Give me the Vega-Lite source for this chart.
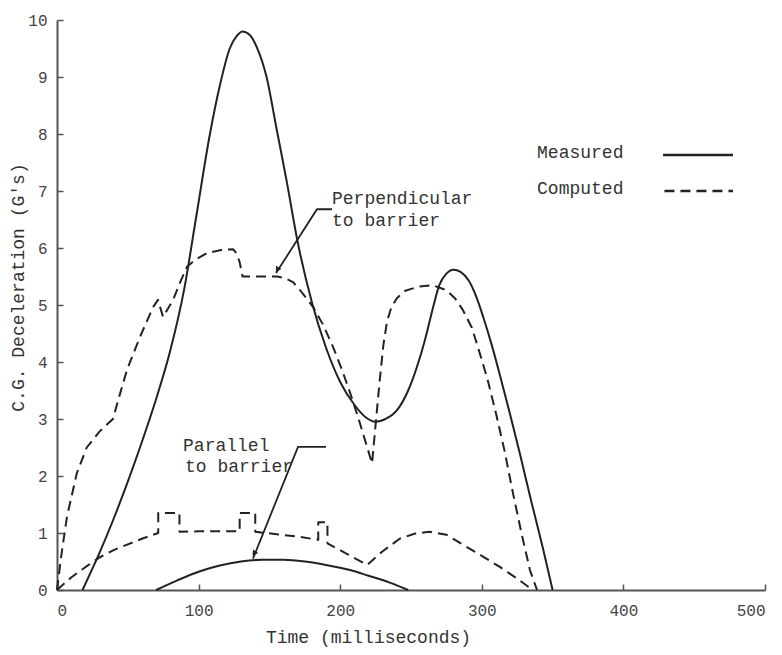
{
  "$schema": "https://vega.github.io/schema/vega-lite/v6.json",
  "width": 708,
  "height": 570,
  "autosize": "none",
  "padding": {"left": 57, "top": 20, "right": 17, "bottom": 65},
  "background": "white",
  "config": {
    "view": {"stroke": null},
    "font": "Liberation Mono",
    "axis": {
      "grid": false,
      "domainColor": "#555",
      "domainWidth": 2,
      "tickColor": "#555",
      "tickWidth": 1.5,
      "tickSize": -6,
      "labelFont": "Liberation Mono",
      "labelFontSize": 16,
      "labelColor": "#444",
      "titleFont": "Liberation Mono",
      "titleFontSize": 18,
      "titleFontWeight": "normal",
      "titleColor": "#333"
    }
  },
  "datasets": {
    "measured": [
      {"s":"mp","t":"Measured","x":18,"y":0},
      {"s":"mp","t":"Measured","x":30,"y":0.65},
      {"s":"mp","t":"Measured","x":40,"y":1.25},
      {"s":"mp","t":"Measured","x":50,"y":1.9},
      {"s":"mp","t":"Measured","x":60,"y":2.6},
      {"s":"mp","t":"Measured","x":70,"y":3.35},
      {"s":"mp","t":"Measured","x":80,"y":4.2},
      {"s":"mp","t":"Measured","x":90,"y":5.3},
      {"s":"mp","t":"Measured","x":98,"y":6.5},
      {"s":"mp","t":"Measured","x":108,"y":8.0},
      {"s":"mp","t":"Measured","x":115,"y":8.85},
      {"s":"mp","t":"Measured","x":122,"y":9.5},
      {"s":"mp","t":"Measured","x":127,"y":9.72},
      {"s":"mp","t":"Measured","x":131,"y":9.8},
      {"s":"mp","t":"Measured","x":136,"y":9.74},
      {"s":"mp","t":"Measured","x":141,"y":9.53},
      {"s":"mp","t":"Measured","x":148,"y":9.0},
      {"s":"mp","t":"Measured","x":155,"y":8.1},
      {"s":"mp","t":"Measured","x":162,"y":7.2},
      {"s":"mp","t":"Measured","x":170,"y":6.1},
      {"s":"mp","t":"Measured","x":180,"y":5.05},
      {"s":"mp","t":"Measured","x":190,"y":4.25},
      {"s":"mp","t":"Measured","x":200,"y":3.65},
      {"s":"mp","t":"Measured","x":210,"y":3.25},
      {"s":"mp","t":"Measured","x":218,"y":3.03},
      {"s":"mp","t":"Measured","x":225,"y":2.95},
      {"s":"mp","t":"Measured","x":232,"y":3.0},
      {"s":"mp","t":"Measured","x":240,"y":3.15},
      {"s":"mp","t":"Measured","x":248,"y":3.5},
      {"s":"mp","t":"Measured","x":254,"y":3.9},
      {"s":"mp","t":"Measured","x":260,"y":4.4},
      {"s":"mp","t":"Measured","x":265,"y":4.9},
      {"s":"mp","t":"Measured","x":270,"y":5.35},
      {"s":"mp","t":"Measured","x":275,"y":5.55},
      {"s":"mp","t":"Measured","x":280,"y":5.62},
      {"s":"mp","t":"Measured","x":285,"y":5.58},
      {"s":"mp","t":"Measured","x":291,"y":5.42},
      {"s":"mp","t":"Measured","x":296,"y":5.15},
      {"s":"mp","t":"Measured","x":301,"y":4.79},
      {"s":"mp","t":"Measured","x":307,"y":4.3},
      {"s":"mp","t":"Measured","x":313,"y":3.75},
      {"s":"mp","t":"Measured","x":320,"y":3.08},
      {"s":"mp","t":"Measured","x":327,"y":2.38},
      {"s":"mp","t":"Measured","x":335,"y":1.55},
      {"s":"mp","t":"Measured","x":343,"y":0.75},
      {"s":"mp","t":"Measured","x":350,"y":0},

      {"s":"ml","t":"Measured","x":70,"y":0},
      {"s":"ml","t":"Measured","x":85,"y":0.17},
      {"s":"ml","t":"Measured","x":101,"y":0.33},
      {"s":"ml","t":"Measured","x":115,"y":0.43},
      {"s":"ml","t":"Measured","x":130,"y":0.5},
      {"s":"ml","t":"Measured","x":145,"y":0.53},
      {"s":"ml","t":"Measured","x":160,"y":0.53},
      {"s":"ml","t":"Measured","x":175,"y":0.5},
      {"s":"ml","t":"Measured","x":190,"y":0.44},
      {"s":"ml","t":"Measured","x":207,"y":0.35},
      {"s":"ml","t":"Measured","x":220,"y":0.25},
      {"s":"ml","t":"Measured","x":235,"y":0.13},
      {"s":"ml","t":"Measured","x":248,"y":0}
    ],
    "computed": [
      {"s":"cp","t":"Computed","i":0,"x":0,"y":0},
      {"s":"cp","t":"Computed","i":1,"x":3,"y":0.6},
      {"s":"cp","t":"Computed","i":2,"x":7,"y":1.28},
      {"s":"cp","t":"Computed","i":3,"x":14,"y":2.05},
      {"s":"cp","t":"Computed","i":4,"x":21,"y":2.5},
      {"s":"cp","t":"Computed","i":5,"x":30,"y":2.78},
      {"s":"cp","t":"Computed","i":6,"x":39.5,"y":3.0},
      {"s":"cp","t":"Computed","i":7,"x":44,"y":3.4},
      {"s":"cp","t":"Computed","i":8,"x":49.4,"y":3.86},
      {"s":"cp","t":"Computed","i":9,"x":58.6,"y":4.44},
      {"s":"cp","t":"Computed","i":10,"x":67.8,"y":4.96},
      {"s":"cp","t":"Computed","i":11,"x":71.3,"y":5.09},
      {"s":"cp","t":"Computed","i":12,"x":74.9,"y":4.79},
      {"s":"cp","t":"Computed","i":13,"x":82,"y":5.09},
      {"s":"cp","t":"Computed","i":14,"x":87,"y":5.4},
      {"s":"cp","t":"Computed","i":15,"x":91.8,"y":5.67},
      {"s":"cp","t":"Computed","i":16,"x":98,"y":5.8},
      {"s":"cp","t":"Computed","i":17,"x":106,"y":5.91},
      {"s":"cp","t":"Computed","i":18,"x":115,"y":5.96},
      {"s":"cp","t":"Computed","i":19,"x":124.3,"y":5.98},
      {"s":"cp","t":"Computed","i":20,"x":127,"y":5.9},
      {"s":"cp","t":"Computed","i":21,"x":129,"y":5.75},
      {"s":"cp","t":"Computed","i":22,"x":131,"y":5.5},
      {"s":"cp","t":"Computed","i":23,"x":140,"y":5.5},
      {"s":"cp","t":"Computed","i":24,"x":155.4,"y":5.5},
      {"s":"cp","t":"Computed","i":25,"x":161,"y":5.47},
      {"s":"cp","t":"Computed","i":26,"x":166.7,"y":5.4},
      {"s":"cp","t":"Computed","i":27,"x":172,"y":5.25},
      {"s":"cp","t":"Computed","i":28,"x":181,"y":4.96},
      {"s":"cp","t":"Computed","i":29,"x":188,"y":4.65},
      {"s":"cp","t":"Computed","i":30,"x":195,"y":4.26},
      {"s":"cp","t":"Computed","i":31,"x":201,"y":3.88},
      {"s":"cp","t":"Computed","i":32,"x":207,"y":3.46},
      {"s":"cp","t":"Computed","i":33,"x":213,"y":3.0},
      {"s":"cp","t":"Computed","i":34,"x":219,"y":2.51},
      {"s":"cp","t":"Computed","i":35,"x":222.5,"y":2.22},
      {"s":"cp","t":"Computed","i":36,"x":225,"y":2.9},
      {"s":"cp","t":"Computed","i":37,"x":228,"y":3.7},
      {"s":"cp","t":"Computed","i":38,"x":230.5,"y":4.3},
      {"s":"cp","t":"Computed","i":39,"x":233,"y":4.7},
      {"s":"cp","t":"Computed","i":40,"x":236,"y":4.95},
      {"s":"cp","t":"Computed","i":41,"x":240,"y":5.12},
      {"s":"cp","t":"Computed","i":42,"x":246,"y":5.25},
      {"s":"cp","t":"Computed","i":43,"x":255,"y":5.32},
      {"s":"cp","t":"Computed","i":44,"x":265,"y":5.35},
      {"s":"cp","t":"Computed","i":45,"x":275,"y":5.26},
      {"s":"cp","t":"Computed","i":46,"x":281,"y":5.12},
      {"s":"cp","t":"Computed","i":47,"x":286.7,"y":4.91},
      {"s":"cp","t":"Computed","i":48,"x":293,"y":4.6},
      {"s":"cp","t":"Computed","i":49,"x":298,"y":4.2},
      {"s":"cp","t":"Computed","i":50,"x":304,"y":3.7},
      {"s":"cp","t":"Computed","i":51,"x":310,"y":3.1},
      {"s":"cp","t":"Computed","i":52,"x":316,"y":2.45},
      {"s":"cp","t":"Computed","i":53,"x":322,"y":1.7},
      {"s":"cp","t":"Computed","i":54,"x":328,"y":1.0},
      {"s":"cp","t":"Computed","i":55,"x":334,"y":0.35},
      {"s":"cp","t":"Computed","i":56,"x":339,"y":0},

      {"s":"cl","t":"Computed","i":0,"x":0,"y":0},
      {"s":"cl","t":"Computed","i":1,"x":10,"y":0.22},
      {"s":"cl","t":"Computed","i":2,"x":20,"y":0.4},
      {"s":"cl","t":"Computed","i":3,"x":30,"y":0.57},
      {"s":"cl","t":"Computed","i":4,"x":40,"y":0.7},
      {"s":"cl","t":"Computed","i":5,"x":50,"y":0.8},
      {"s":"cl","t":"Computed","i":6,"x":60,"y":0.9},
      {"s":"cl","t":"Computed","i":7,"x":71.5,"y":1.0},
      {"s":"cl","t":"Computed","i":8,"x":71.5,"y":1.35},
      {"s":"cl","t":"Computed","i":9,"x":86.5,"y":1.35},
      {"s":"cl","t":"Computed","i":10,"x":86.5,"y":1.02},
      {"s":"cl","t":"Computed","i":11,"x":100,"y":1.03},
      {"s":"cl","t":"Computed","i":12,"x":115,"y":1.03},
      {"s":"cl","t":"Computed","i":13,"x":129,"y":1.03},
      {"s":"cl","t":"Computed","i":14,"x":129,"y":1.35},
      {"s":"cl","t":"Computed","i":15,"x":140,"y":1.35},
      {"s":"cl","t":"Computed","i":16,"x":140,"y":1.02},
      {"s":"cl","t":"Computed","i":17,"x":155,"y":0.98},
      {"s":"cl","t":"Computed","i":18,"x":172,"y":0.93},
      {"s":"cl","t":"Computed","i":19,"x":184.5,"y":0.88},
      {"s":"cl","t":"Computed","i":20,"x":184.5,"y":1.19},
      {"s":"cl","t":"Computed","i":21,"x":191,"y":1.19},
      {"s":"cl","t":"Computed","i":22,"x":191,"y":0.82},
      {"s":"cl","t":"Computed","i":23,"x":205,"y":0.63},
      {"s":"cl","t":"Computed","i":24,"x":219,"y":0.44},
      {"s":"cl","t":"Computed","i":25,"x":230,"y":0.68},
      {"s":"cl","t":"Computed","i":26,"x":242,"y":0.9},
      {"s":"cl","t":"Computed","i":27,"x":253,"y":0.99},
      {"s":"cl","t":"Computed","i":28,"x":263,"y":1.02},
      {"s":"cl","t":"Computed","i":29,"x":275,"y":0.97},
      {"s":"cl","t":"Computed","i":30,"x":289,"y":0.76},
      {"s":"cl","t":"Computed","i":31,"x":300,"y":0.6},
      {"s":"cl","t":"Computed","i":32,"x":313,"y":0.4},
      {"s":"cl","t":"Computed","i":33,"x":325,"y":0.2},
      {"s":"cl","t":"Computed","i":34,"x":336,"y":0}
    ],
    "leaders": [
      {"l":"perp","i":0,"x":194.2,"y":6.68},
      {"l":"perp","i":1,"x":183.6,"y":6.68},
      {"l":"perp","i":2,"x":154.7,"y":5.56},
      {"l":"par","i":0,"x":190,"y":2.51},
      {"l":"par","i":1,"x":170.2,"y":2.51},
      {"l":"par","i":2,"x":138.4,"y":0.55}
    ],
    "arrows": [
      {"x":155.6,"y":5.62,"a":212},
      {"x":139.2,"y":0.64,"a":213}
    ],
    "labels": [
      {"x":194.2,"y":6.86,"txt":"Perpendicular"},
      {"x":194.2,"y":6.47,"txt":"to barrier"},
      {"x":89,"y":2.53,"txt":"Parallel"},
      {"x":90.4,"y":2.16,"txt":"to barrier"},
      {"x":339,"y":7.67,"txt":"Measured"},
      {"x":339,"y":7.04,"txt":"Computed"}
    ],
    "key": [
      {"t":"Measured","x":428,"x2":477.4,"y":7.63},
      {"t":"Computed","x":429,"x2":477.4,"y":7.0}
    ]
  },
  "layer": [
    {
      "data": {"name": "measured"},
      "mark": {"type": "line", "strokeWidth": 2, "color": "#222", "interpolate": "monotone"},
      "encoding": {
        "x": {"field": "x", "type": "quantitative", "scale": {"domain": [0, 500], "nice": false},
              "axis": {"values": [0, 100, 200, 300, 400, 500], "format": "d", "labelPadding": 18, "title": "Time (milliseconds)", "titleX": 311, "titlePadding": 10}},
        "y": {"field": "y", "type": "quantitative", "scale": {"domain": [0, 10], "nice": false},
              "axis": {"values": [0,1,2,3,4,5,6,7,8,9,10], "format": "d", "labelPadding": 16, "title": "C.G. Deceleration (G's)", "titleX": -39, "titleY": 267, "titleBaseline": "middle", "titleAngle": -90}},
        "detail": {"field": "s"}
      }
    },
    {
      "data": {"name": "computed"},
      "mark": {"type": "line", "strokeWidth": 2, "color": "#222", "strokeJoin": "round", "strokeDash": [10, 6]},
      "encoding": {
        "x": {"field": "x", "type": "quantitative"},
        "y": {"field": "y", "type": "quantitative"},
        "detail": {"field": "s"},
        "order": {"field": "i", "type": "quantitative"}
      }
    },
    {
      "data": {"name": "leaders"},
      "mark": {"type": "line", "strokeWidth": 1.8, "color": "#222"},
      "encoding": {
        "x": {"field": "x", "type": "quantitative"},
        "y": {"field": "y", "type": "quantitative"},
        "detail": {"field": "l"},
        "order": {"field": "i", "type": "quantitative"}
      }
    },
    {
      "data": {"name": "arrows"},
      "mark": {"type": "point", "shape": "triangle-up", "filled": true, "color": "#222", "size": 40, "opacity": 1},
      "encoding": {
        "x": {"field": "x", "type": "quantitative"},
        "y": {"field": "y", "type": "quantitative"},
        "angle": {"field": "a", "type": "quantitative", "scale": null}
      }
    },
    {
      "data": {"name": "labels"},
      "mark": {"type": "text", "align": "left", "baseline": "middle", "font": "Liberation Mono", "fontSize": 18, "color": "#333"},
      "encoding": {
        "x": {"field": "x", "type": "quantitative"},
        "y": {"field": "y", "type": "quantitative"},
        "text": {"field": "txt"}
      }
    },
    {
      "data": {"name": "key"},
      "mark": {"type": "rule", "strokeWidth": 2.5, "color": "#222"},
      "encoding": {
        "x": {"field": "x", "type": "quantitative"},
        "x2": {"field": "x2"},
        "y": {"field": "y", "type": "quantitative"},
        "strokeDash": {"field": "t", "type": "nominal", "scale": {"domain": ["Measured", "Computed"], "range": [[1, 0], [10, 6]]}, "legend": null}
      }
    }
  ]
}
